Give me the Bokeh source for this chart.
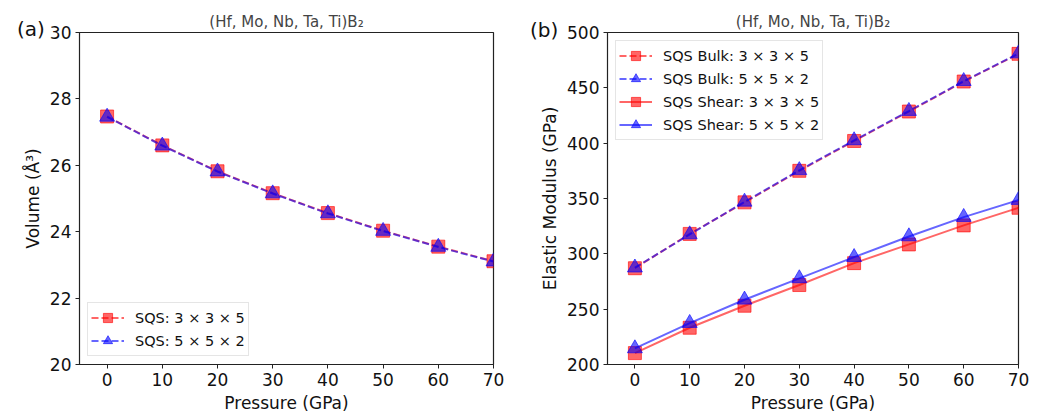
from bokeh.plotting import figure
from bokeh.layouts import row
from bokeh.models import Legend, LegendItem, FixedTicker, Div
from bokeh.embed import file_html
from bokeh.resources import INLINE

FONT = "DejaVu Sans"

pressure = [0, 10, 20, 30, 40, 50, 60, 70]
vol_335 = [27.47, 26.60, 25.82, 25.16, 24.56, 24.03, 23.55, 23.11]
vol_552 = [27.46, 26.59, 25.81, 25.15, 24.55, 24.02, 23.54, 23.10]
bulk_335 = [287, 318, 346.5, 375, 402, 428.6, 455.7, 480.7]
bulk_552 = [287.5, 317.5, 347, 375.5, 402.5, 429, 456, 481]
shear_335 = [210.3, 233.2, 253.1, 271.8, 291.6, 308.5, 325.7, 341.6]
shear_552 = [214.5, 237.4, 258.5, 277.8, 297.0, 315.7, 333.2, 348.6]

x_ticks = [0, 10, 20, 30, 40, 50, 60, 70]
vol_ticks = [20, 22, 24, 26, 28, 30]
mod_ticks = [200, 250, 300, 350, 400, 450, 500]

title_text = "(Hf, Mo, Nb, Ta, Ti)B\u2082"
RED = "red"
BLUE = "blue"
ALPHA = 0.6


def style(p, xt, yt):
    p.title.text_font = FONT
    p.title.text_font_size = "15px"
    p.title.text_font_style = "normal"
    p.title.align = "center"
    p.title.standoff = 3
    p.title.offset = 0
    p.grid.visible = False
    p.outline_line_color = "#222222"
    p.outline_line_width = 1.2
    for ax in (p.xaxis, p.yaxis):
        ax.axis_line_color = "#222222"
        ax.major_tick_line_color = "#222222"
        ax.minor_tick_line_color = None
        ax.major_tick_in = 0
        ax.major_tick_out = 4
        ax.major_label_text_font = FONT
        ax.major_label_text_font_size = "17px"
        ax.major_label_text_color = "#111111"
        ax.axis_label_text_font = FONT
        ax.axis_label_text_font_size = "17px"
        ax.axis_label_text_font_style = "normal"
        ax.axis_label_text_color = "#111111"
        ax.major_label_standoff = 4
        ax.axis_label_standoff = 4
    p.xaxis.ticker = FixedTicker(ticks=xt)
    p.yaxis.ticker = FixedTicker(ticks=yt)


def series(p, x, y, color, marker, dash):
    l = p.line(x, y, line_color=color, line_alpha=ALPHA, line_width=2, line_dash=dash)
    s = p.scatter(x, y, marker=marker, size=13 if marker == "square" else 15,
                  fill_color=color, fill_alpha=ALPHA,
                  line_color=color, line_alpha=ALPHA, line_width=1)
    return [l, s]


def make_legend(items, loc):
    lg = Legend(items=items, location=loc)
    lg.label_text_font = FONT
    lg.label_text_font_size = "14.5px"
    lg.label_text_color = "#111111"
    lg.glyph_width = 33
    lg.glyph_height = 23
    lg.label_height = 20
    lg.label_standoff = 11
    lg.spacing = 0
    lg.padding = 3
    lg.margin = 8
    lg.border_line_color = "#cccccc"
    lg.border_line_width = 1
    lg.background_fill_color = "white"
    lg.background_fill_alpha = 0.8
    return lg


# ---- panel (a)
p1 = figure(width=528, height=417, x_range=(-5, 70), y_range=(20, 30),
            output_backend="svg", toolbar_location=None, title=title_text,
            min_border_left=79, min_border_right=35, min_border_top=32, min_border_bottom=53)
style(p1, x_ticks, vol_ticks)
p1.xaxis.axis_label = "Pressure (GPa)"
p1.yaxis.axis_label = "Volume (Å³)"
r1 = series(p1, pressure, vol_335, RED, "square", "7 3")
r2 = series(p1, pressure, vol_552, BLUE, "triangle", "7 3")
p1.add_layout(make_legend([LegendItem(label="SQS: 3 × 3 × 5", renderers=r1),
                           LegendItem(label="SQS: 5 × 5 × 2", renderers=r2)], "bottom_left"))

# ---- panel (b)
p2 = figure(width=518, height=417, x_range=(-5, 70), y_range=(200, 500),
            output_backend="svg", toolbar_location=None, title=title_text,
            min_border_left=79, min_border_right=28, min_border_top=32, min_border_bottom=53)
style(p2, x_ticks, mod_ticks)
p2.xaxis.axis_label = "Pressure (GPa)"
p2.yaxis.axis_label = "Elastic Modulus (GPa)"
b1 = series(p2, pressure, bulk_335, RED, "square", "7 3")
b2 = series(p2, pressure, bulk_552, BLUE, "triangle", "7 3")
s1 = series(p2, pressure, shear_335, RED, "square", "solid")
s2 = series(p2, pressure, shear_552, BLUE, "triangle", "solid")
p2.add_layout(make_legend([LegendItem(label="SQS Bulk: 3 × 3 × 5", renderers=b1),
                           LegendItem(label="SQS Bulk: 5 × 5 × 2", renderers=b2),
                           LegendItem(label="SQS Shear: 3 × 3 × 5", renderers=s1),
                           LegendItem(label="SQS Shear: 5 × 5 × 2", renderers=s2)], "top_left"))

div_a = Div(text="(a)", styles={"position": "absolute", "left": "12px", "top": "10px",
                                "font-family": FONT, "font-size": "20px", "color": "#111111"})
div_b = Div(text="(b)", styles={"position": "absolute", "left": "525px", "top": "11px",
                                "font-family": FONT, "font-size": "20px", "color": "#111111"})

layout = row(p1, p2, div_a, div_b)
open("out.html", "w").write(file_html(layout, INLINE))
